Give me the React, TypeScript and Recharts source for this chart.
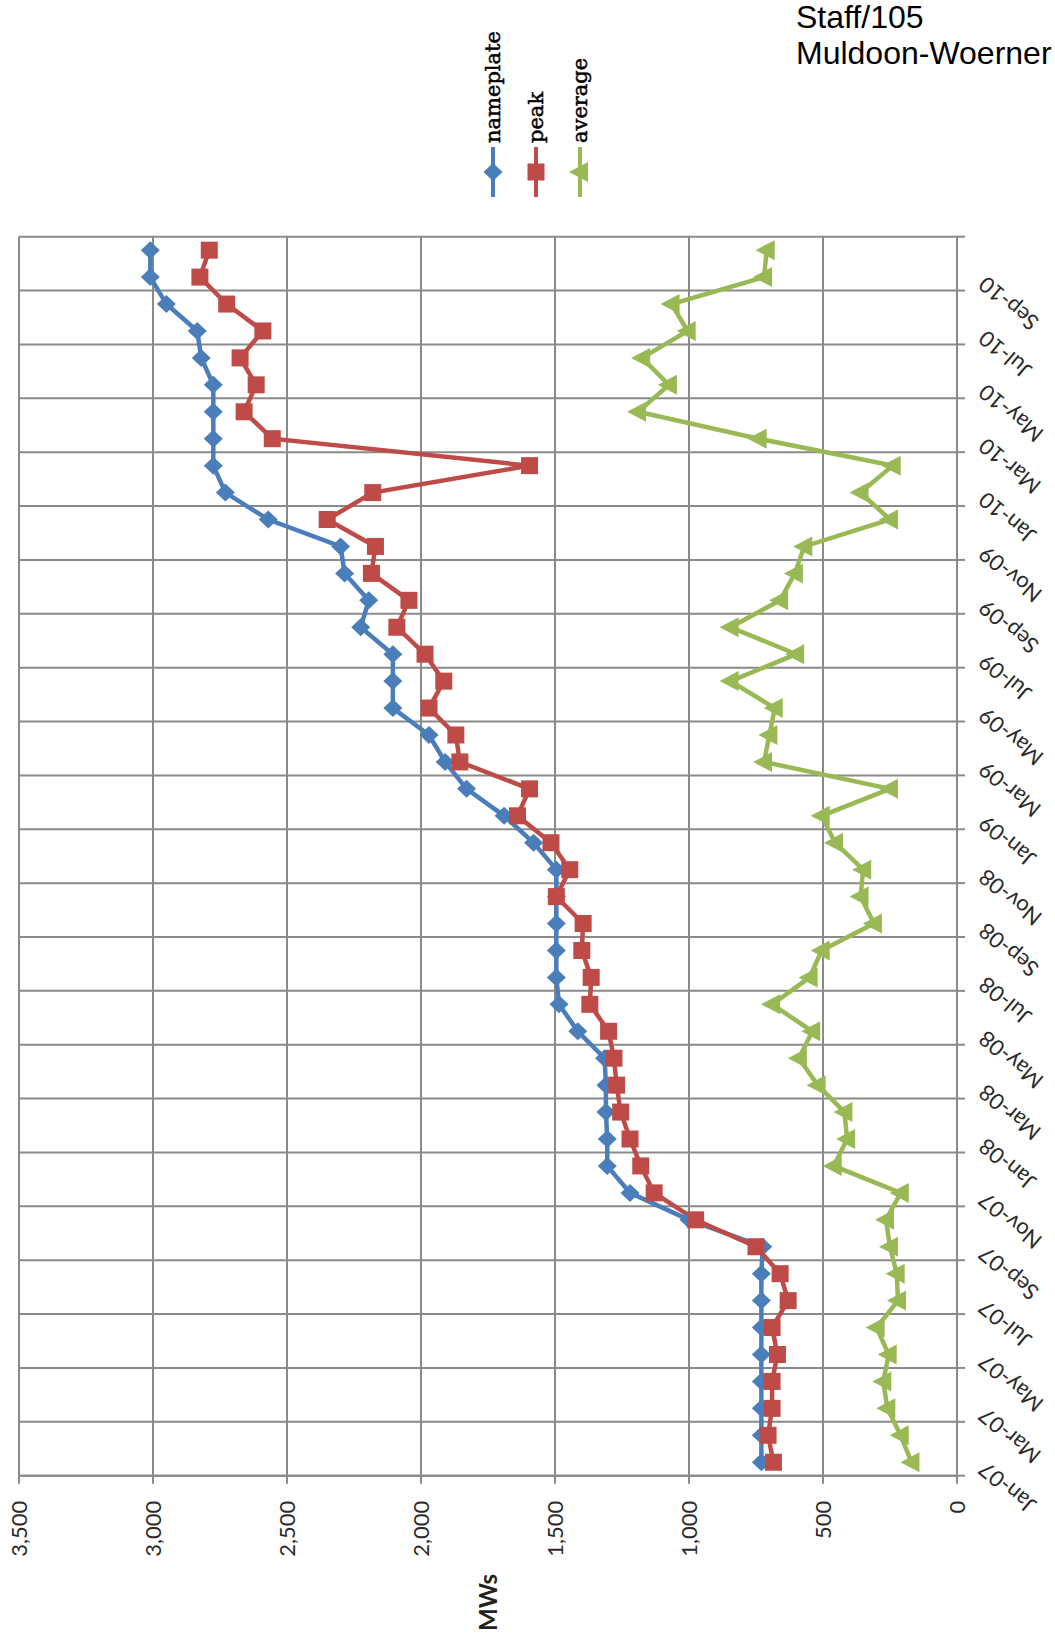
import React from "react";
import { LineChart, Line, XAxis, YAxis, CartesianGrid, Legend } from "recharts";

// one entry per month, Jan-07 .. Oct-10
const MONTHS = [
  "Jan-07", "Feb-07", "Mar-07", "Apr-07", "May-07", "Jun-07", "Jul-07", "Aug-07", "Sep-07", "Oct-07", "Nov-07", "Dec-07",
  "Jan-08", "Feb-08", "Mar-08", "Apr-08", "May-08", "Jun-08", "Jul-08", "Aug-08", "Sep-08", "Oct-08", "Nov-08", "Dec-08",
  "Jan-09", "Feb-09", "Mar-09", "Apr-09", "May-09", "Jun-09", "Jul-09", "Aug-09", "Sep-09", "Oct-09", "Nov-09", "Dec-09",
  "Jan-10", "Feb-10", "Mar-10", "Apr-10", "May-10", "Jun-10", "Jul-10", "Aug-10", "Sep-10", "Oct-10",
];

const NAMEPLATE = [
  730, 730, 730, 730, 730, 730, 730, 730, 725, 1000, 1220, 1305,
  1305, 1310, 1310, 1315, 1415, 1485, 1495, 1495, 1495, 1495, 1495, 1580,
  1690, 1830, 1910, 1970, 2105, 2105, 2105, 2225, 2195, 2285, 2300, 2570,
  2730, 2775, 2775, 2775, 2775, 2820, 2835, 2950, 3010, 3010,
];

const PEAK = [
  685, 705, 690, 690, 670, 690, 630, 660, 750, 975, 1130, 1180,
  1220, 1255, 1270, 1280, 1300, 1370, 1365, 1400, 1395, 1495, 1445, 1515,
  1640, 1595, 1855, 1870, 1970, 1915, 1985, 2090, 2045, 2185, 2170, 2350,
  2180, 1595, 2555, 2660, 2615, 2675, 2590, 2725, 2825, 2790,
];

const AVERAGE = [
  170, 210, 260, 275, 255, 300, 220, 225, 250, 265, 210, 460,
  410, 420, 520, 590, 540, 690, 550, 505, 310, 360, 350, 455,
  505, 250, 720, 700, 680, 845, 600, 845, 660, 605, 570, 250,
  360, 240, 740, 1190, 1075, 1175, 1005, 1065, 720, 710,
];

const VALUE_TICKS = [0, 500, 1000, 1500, 2000, 2500, 3000, 3500];

const data = MONTHS.map((month, i) => ({
  idx: i,
  month,
  nameplate: NAMEPLATE[i],
  peak: PEAK[i],
  average: AVERAGE[i],
}));

// labels every other month, tick marks / gridlines between the label pairs
const labelIdx = MONTHS.map((_, i) => i).filter((i) => i % 2 === 0);
const bounds = labelIdx.map((i) => i - 0.5).concat([MONTHS.length - 0.5]);
const catTicks = [...bounds, ...labelIdx].sort((a, b) => a - b);

const BLUE = "#4a7ebb";
const RED = "#be4b48";
const GREEN = "#98b954";
const GRID = "#8a8a8a";
const FONT = "Lato, 'Open Sans', sans-serif";

// the scanned page has the chart turned a quarter turn counter-clockwise
const CHART_W = 1635;
const CHART_H = 1055;

function Marker({ kind, cx, cy, color }: { kind: string; cx: number; cy: number; color: string }) {
  if (kind === "diamond") {
    return <polygon points={`${cx},${cy - 9.5} ${cx + 9},${cy} ${cx},${cy + 9.5} ${cx - 9},${cy}`} fill={color} />;
  }
  if (kind === "square") {
    return <rect x={cx - 8.5} y={cy - 8.5} width={17} height={17} fill={color} />;
  }
  return <polygon points={`${cx},${cy - 11} ${cx + 10},${cy + 8} ${cx - 10},${cy + 8}`} fill={color} />;
}

const SERIES = [
  { key: "nameplate", color: BLUE, shape: "diamond" },
  { key: "peak", color: RED, shape: "square" },
  { key: "average", color: GREEN, shape: "triangle" },
];

const dotFor = (shape: string, color: string) => (props: any) => {
  const { cx, cy, index } = props;
  if (cx == null || cy == null) return <g key={`e-${index}`} />;
  return <Marker key={`${shape}-${index}`} kind={shape} cx={cx} cy={cy} color={color} />;
};

function CatTick(props: any) {
  const { x, y, payload } = props;
  const v = payload.value;
  if (!Number.isInteger(v)) {
    return <line x1={x} x2={x} y1={y} y2={y + 8} stroke={GRID} strokeWidth={2} />;
  }
  const tx = x + 2;
  const ty = y + 30;
  return (
    <text
      x={tx}
      y={ty}
      transform={`rotate(-50 ${tx} ${ty})`}
      textAnchor="end"
      fontFamily={FONT}
      fontSize={22}
      fill="#2a2a2a"
    >
      {MONTHS[v]}
    </text>
  );
}

// keep the series order (nameplate, peak, average) rather than the sorted payload
function LegendBox(props: any) {
  const payload = props.payload || [];
  return (
    <div>
      {SERIES.map((s) => {
        const entry = payload.find((p: any) => p.dataKey === s.key);
        return (
          <div key={s.key} style={{ display: "flex", alignItems: "center", height: 43.5 }}>
            <svg width={54} height={24} style={{ display: "block" }}>
              <line x1={0} x2={50} y1={12} y2={12} stroke={s.color} strokeWidth={4} />
              <Marker kind={s.shape} cx={25} cy={12} color={s.color} />
            </svg>
            <span
              style={{
                fontFamily: "'DejaVu Serif', serif",
                fontSize: 21,
                color: "#000",
                lineHeight: "24px",
                WebkitTextStroke: "0.5px #000",
              }}
            >
              {entry ? entry.value : s.key}
            </span>
          </div>
        );
      })}
    </div>
  );
}

export default function App() {
  return (
    <div style={{ position: "absolute", left: 0, top: 0, width: 1055, height: 1635, overflow: "hidden", background: "#fff" }}>
      <div
        style={{
          position: "absolute",
          left: 796,
          top: -1,
          fontFamily: "'Liberation Sans', Arial, sans-serif",
          fontSize: 32,
          lineHeight: "36px",
          color: "#000",
          whiteSpace: "nowrap",
        }}
      >
        <div>Staff/105</div>
        <div>Muldoon-Woerner</div>
      </div>

      <div
        style={{
          position: "absolute",
          left: 0,
          top: 0,
          width: CHART_W,
          height: CHART_H,
          transformOrigin: "0 0",
          transform: `translate(0px, ${CHART_W}px) rotate(-90deg)`,
        }}
      >
        <LineChart
          width={CHART_W}
          height={CHART_H}
          data={data}
          margin={{ top: 19, right: 236.7, bottom: 0, left: 0 }}
        >
          <CartesianGrid stroke={GRID} strokeWidth={2} verticalValues={bounds} />
          <XAxis
            type="number"
            dataKey="idx"
            domain={[-0.5, MONTHS.length - 0.5]}
            ticks={catTicks}
            interval={0}
            height={98}
            tickLine={false}
            tickSize={0}
            tickMargin={0}
            axisLine={{ stroke: GRID, strokeWidth: 2 }}
            tick={<CatTick />}
          />
          <YAxis
            type="number"
            domain={[0, 3500]}
            ticks={VALUE_TICKS}
            interval={0}
            width={159.3}
            tickSize={8}
            tickMargin={17}
            tickLine={{ stroke: GRID, strokeWidth: 2 }}
            axisLine={{ stroke: GRID, strokeWidth: 2 }}
            tickFormatter={(v: number) => v.toLocaleString("en-US")}
            tick={{ fontFamily: FONT, fontSize: 22, fill: "#2a2a2a" }}
            label={{
              value: "MWs",
              position: "insideLeft",
              offset: 4,
              angle: 0,
              style: { fontFamily: FONT, fontSize: 24, fontWeight: 700, fill: "#222" },
            }}
          />
          <Legend
            layout="vertical"
            align="center"
            verticalAlign="middle"
            content={<LegendBox />}
            wrapperStyle={{ left: 1438, top: 471, width: 190 }}
          />
          {SERIES.map((s) => (
            <Line
              key={s.key}
              type="linear"
              dataKey={s.key}
              name={s.key}
              stroke={s.color}
              strokeWidth={4.5}
              dot={dotFor(s.shape, s.color)}
              activeDot={false}
              isAnimationActive={false}
            />
          ))}
        </LineChart>
      </div>
    </div>
  );
}
